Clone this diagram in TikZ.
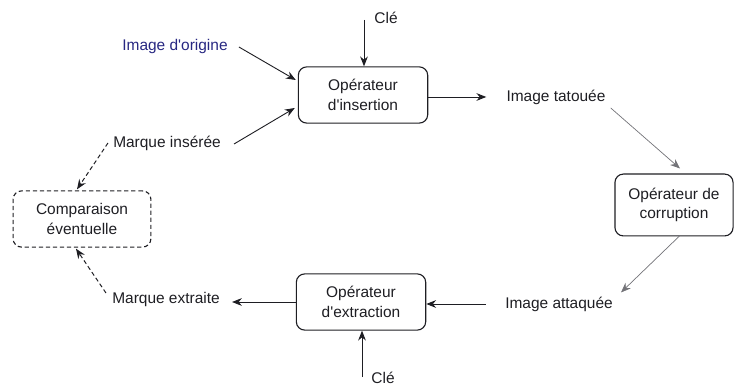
\documentclass[tikz,border=0pt]{standalone}
\usepackage{fontspec}
\setmainfont{Liberation Sans}[Ligatures=TeXOff]
\usetikzlibrary{arrows.meta,calc,positioning}
\definecolor{inkcol}{RGB}{30,30,35}
\definecolor{origcol}{RGB}{40,40,130}
\definecolor{thincol}{RGB}{115,115,120}

\begin{document}
\begin{tikzpicture}[x=0.025cm,y=-0.025cm,>={Stealth[length=7pt,width=5.5pt]},
    font=\fontsize{11}{14}\selectfont,
    op/.style={draw=inkcol,line width=0.8pt,rounded corners=6pt,align=center,
      text=inkcol,minimum width=92pt,minimum height=40pt,inner sep=2pt},
    lbl/.style={inner sep=0pt,text=inkcol},
    flow/.style={->,draw=inkcol,line width=0.65pt},
    weak/.style={->,draw=thincol,line width=0.5pt},
    maybe/.style={->,draw=inkcol,line width=0.7pt,dash pattern=on 3pt off 2pt}]
  \useasboundingbox (0,0) rectangle (734,385);
  % operators
  \node[op] (ins) at (363,95) {Opérateur\\d'insertion};
  \node[op,minimum width=84pt,minimum height=44pt] (cor) at (674,205) {Opérateur de\\corruption};
  \node[op] (ext) at (361,302) {Opérateur\\d'extraction};
  \node[op,minimum width=98pt,dash pattern=on 3pt off 2pt] (cmp) at (82,219) {Comparaison\\éventuelle};
  % labels
  \node[lbl,text=origcol] (orig) at (175,47) {Image d'origine};
  \node[lbl] (insm) at (167,143) {Marque insérée};
  \node[lbl] (tat) at (556,97) {Image tatouée};
  \node[lbl] (att) at (559,304) {Image attaquée};
  \node[lbl] (extm) at (166,300) {Marque extraite};
  \node[lbl] (key1) at (386,18) {Clé};
  \node[lbl] (key2) at (383,378) {Clé};
  \coordinate (k1) at (364,20);
  \coordinate (k2) at (362,377);
  % connectors
  \draw[flow] (k1) -- (k1 |- ins.north);
  \draw[flow] ($(orig.east)+(11,0)$) -- ($(ins.west)+(-2,-15)$);
  \draw[flow] ($(insm.east)+(13,1)$) -- ($(ins.west)+(-3,13)$);
  \draw[flow] ($(ins.east)+(0,2)$) -- ($(tat.west)+(-20,0)$);
  \draw[weak] ($(tat.east)+(5,11)$) -- ($(cor.north)+(6,-5)$);
  \draw[weak] ($(cor.south)+(6,-1)$) -- ($(att.north east)+(8,-4)$);
  \draw[flow] ($(att.west)+(-19,0)$) -- (ext.east |- att);
  \draw[flow] (ext.west) -- ($(extm.east)+(12,2)$);
  \draw[flow] (k2) -- (k2 |- ext.south);
  \draw[maybe] ($(insm.west)+(-5,0)$) -- ($(cmp.north)+(-5,-1)$);
  \draw[maybe] ($(extm.west)+(-6,-7)$) -- ($(cmp.south)+(-6,1)$);
\end{tikzpicture}
\end{document}
